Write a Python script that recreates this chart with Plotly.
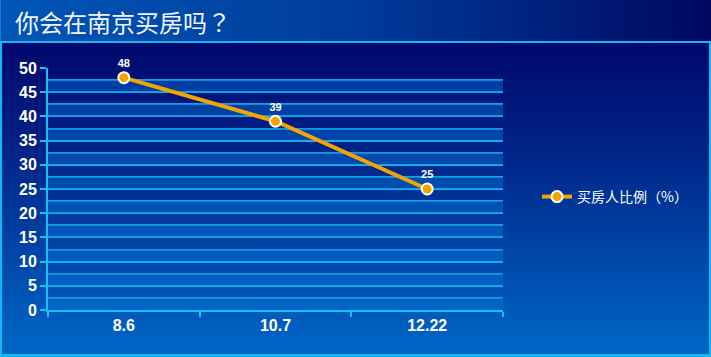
import base64
import plotly.graph_objects as go

# ---- data ----
categories = ["8.6", "10.7", "12.22"]
values = [48, 39, 25]
series_name = "买房人比例（%）"
title_text = "你会在南京买房吗？"
y_ticks = [0, 5, 10, 15, 20, 25, 30, 35, 40, 45, 50]
band_starts = [0, 5, 10, 15, 20, 25, 30, 35, 40, 45]
band_width = 2.5

W, H = 711, 357
L, R, T, B = 48, 208, 68, 47
PW, PH = W - L - R, H - T - B

svg = f'''<svg xmlns="http://www.w3.org/2000/svg" width="{W}" height="{H}" viewBox="0 0 {W} {H}" preserveAspectRatio="none">
<defs>
<linearGradient id="tg" x1="0" y1="0" x2="1" y2="0">
<stop offset="0" stop-color="#0056b6"/><stop offset="0.5" stop-color="#003c9c"/><stop offset="1" stop-color="#000860"/>
</linearGradient>
<linearGradient id="bg" x1="0" y1="0" x2="0" y2="1">
<stop offset="0" stop-color="#00086c"/><stop offset="0.35" stop-color="#002488"/><stop offset="1" stop-color="#0068c8"/>
</linearGradient>
</defs>
<rect x="0" y="0" width="{W}" height="42" fill="url(#tg)"/>
<rect x="0" y="42" width="{W}" height="{H-42}" fill="url(#bg)"/>
<rect x="0" y="0" width="1" height="42" fill="#1a7ad8"/>
<rect x="0" y="41" width="{W}" height="2" fill="#1cb4f0"/>
<rect x="0" y="41" width="2" height="{H-41}" fill="#10b8f0"/>
<rect x="{W-2}" y="41" width="2" height="{H-41}" fill="#10b8f0"/>
<rect x="0" y="{H-3}" width="{W}" height="3" fill="#10b8f0"/>
</svg>'''
src = "data:image/svg+xml;base64," + base64.b64encode(svg.encode()).decode()

fig = go.Figure()

# alternating lighter bands on the base (hidden, linear 0..1) x axis
for s in band_starts:
    fig.add_trace(go.Scatter(
        x=[0, 1, 1, 0, 0], y=[s, s, s + band_width, s + band_width, s],
        xaxis="x", yaxis="y", mode="lines", fill="toself", line=dict(width=0),
        fillcolor="rgba(0,115,215,0.45)", hoverinfo="skip", showlegend=False,
    ))

# the data series on the overlaying category axis (drawn on top)
fig.add_trace(go.Scatter(
    x=categories, y=values, name=series_name, xaxis="x2", yaxis="y",
    mode="lines+markers+text",
    line=dict(color="#f2a400", width=4),
    marker=dict(size=11, color="#f2a400", line=dict(color="white", width=2)),
    text=[str(v) for v in values], textposition="top center",
    textfont=dict(family="Liberation Sans", size=11, color="white", weight="bold"),
    cliponaxis=False,
))

fig.update_layout(
    width=W, height=H,
    margin=dict(l=L, r=R, t=T, b=B),
    paper_bgcolor="#00106e", plot_bgcolor="rgba(0,0,0,0)",
    images=[dict(source=src, xref="paper", yref="paper", x=-L / PW, y=(PH + T) / PH,
                 sizex=W / PW, sizey=H / PH, xanchor="left", yanchor="top",
                 sizing="stretch", layer="below")],
    showlegend=True,
    legend=dict(x=(537 - L) / PW, y=(310 - 197) / PH, xanchor="left", yanchor="middle",
                font=dict(family="Noto Sans CJK TC", size=14, color="white"),
                bgcolor="rgba(0,0,0,0)", borderwidth=0),
    annotations=[dict(text=title_text, xref="paper", yref="paper", x=-(L - 13) / PW,
                      y=(PH + T - 21) / PH, xanchor="left", yanchor="middle", showarrow=False,
                      font=dict(family="Noto Sans CJK TC", size=24, color="#f0f6ff"))],
    xaxis=dict(range=[0, 1], showgrid=False, zeroline=False, showticklabels=False,
               ticks="", showline=False),
    xaxis2=dict(type="category", range=[-0.5, 2.5], overlaying="x", side="bottom",
                showgrid=False, tickson="boundaries",
                ticks="outside", ticklen=5, tickwidth=2, tickcolor="#14c0f4",
                showline=True, linecolor="#14c0f4", linewidth=2,
                tickfont=dict(family="Liberation Sans", size=16, color="white", weight="bold")),
    yaxis=dict(range=[0, 50], tickvals=y_ticks, ticks="outside", ticklen=6, tickwidth=2,
               tickcolor="#14c0f4", showline=True, linecolor="#14c0f4", linewidth=2,
               showgrid=True, gridcolor="#1ab4ec", gridwidth=1.5,
               minor=dict(dtick=2.5, showgrid=True, gridcolor="#1a9ce0", gridwidth=1.5),
               zeroline=False,
               tickfont=dict(family="Liberation Sans", size=16, color="white", weight="bold")),
)

fig.write_html("out.html")
